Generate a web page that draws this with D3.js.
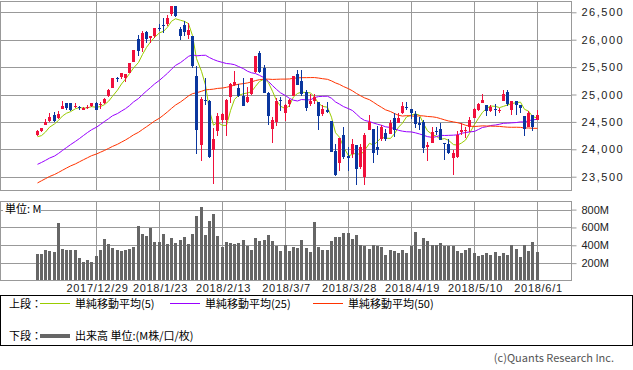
<!DOCTYPE html>
<html>
<head>
<meta charset="utf-8">
<script src="https://cdn.jsdelivr.net/npm/d3@7"></script>
<style>
  body { margin: 0; background: #fff; }
  svg { display: block; font-family: "Noto Sans CJK JP", "Noto Sans", sans-serif; }
</style>
</head>
<body>
<svg id="chart" width="633" height="370"></svg>
<script>
// trading days shown as candles
const dates = [
  "2017/12/8", "2017/12/11", "2017/12/12", "2017/12/13", "2017/12/14", "2017/12/15", "2017/12/18", "2017/12/19", "2017/12/20", "2017/12/21",
  "2017/12/22", "2017/12/26", "2017/12/27", "2017/12/28", "2017/12/29", "2018/1/2", "2018/1/3", "2018/1/4", "2018/1/5", "2018/1/8",
  "2018/1/9", "2018/1/10", "2018/1/11", "2018/1/12", "2018/1/16", "2018/1/17", "2018/1/18", "2018/1/19", "2018/1/22", "2018/1/23",
  "2018/1/24", "2018/1/25", "2018/1/26", "2018/1/29", "2018/1/30", "2018/1/31", "2018/2/1", "2018/2/2", "2018/2/5", "2018/2/6",
  "2018/2/7", "2018/2/8", "2018/2/9", "2018/2/12", "2018/2/13", "2018/2/14", "2018/2/15", "2018/2/16", "2018/2/20", "2018/2/21",
  "2018/2/22", "2018/2/23", "2018/2/26", "2018/2/27", "2018/2/28", "2018/3/1", "2018/3/2", "2018/3/5", "2018/3/6", "2018/3/7",
  "2018/3/8", "2018/3/9", "2018/3/12", "2018/3/13", "2018/3/14", "2018/3/15", "2018/3/16", "2018/3/19", "2018/3/20", "2018/3/21",
  "2018/3/22", "2018/3/23", "2018/3/26", "2018/3/27", "2018/3/28", "2018/3/29", "2018/4/2", "2018/4/3", "2018/4/4", "2018/4/5",
  "2018/4/6", "2018/4/9", "2018/4/10", "2018/4/11", "2018/4/12", "2018/4/13", "2018/4/16", "2018/4/17", "2018/4/18", "2018/4/19",
  "2018/4/20", "2018/4/23", "2018/4/24", "2018/4/25", "2018/4/26", "2018/4/27", "2018/4/30", "2018/5/1", "2018/5/2", "2018/5/3",
  "2018/5/4", "2018/5/7", "2018/5/8", "2018/5/9", "2018/5/10", "2018/5/11", "2018/5/14", "2018/5/15", "2018/5/16", "2018/5/17",
  "2018/5/18", "2018/5/21", "2018/5/22", "2018/5/23", "2018/5/24", "2018/5/25", "2018/5/29", "2018/5/30", "2018/5/31", "2018/6/1"
];

const opens = [
  24264, 24330, 24452, 24515, 24619, 24577, 24739, 24839, 24839, 24771,
  24765, 24716, 24766, 24795, 24849, 24809, 24850, 24964, 25114, 25308,
  25312, 25310, 25400, 25596, 26008, 25845, 26149, 26038, 26074, 26214,
  26271, 26281, 26469, 26609, 26198, 26268, 26083, 26061, 25337, 24085,
  24902, 24884, 23992, 24337, 24541, 24535, 24946, 25177, 25124, 24981,
  24865, 25001, 25410, 25755, 25480, 25024, 24376, 24500, 24901, 24655,
  24823, 24969, 25374, 25249, 25050, 24826, 24878, 24867, 24647, 24713,
  24525, 23966, 23758, 24270, 23885, 23912, 24076, 23670, 23491, 24347,
  24372, 24033, 24188, 24304, 24272, 24574, 24474, 24667, 24780, 24728,
  24650, 24488, 24500, 24042, 24109, 24343, 24372, 24117, 24097, 23836,
  23866, 24317, 24341, 24399, 24568, 24715, 24853, 24808, 24700, 24740,
  24696, 24883, 25047, 24721, 24882, 24807, 24600, 24405, 24622, 24542
];

const highs = [
  24345, 24390, 24552, 24668, 24672, 24690, 24876, 24844, 24850, 24838,
  24784, 24778, 24800, 24840, 24871, 24864, 24941, 25105, 25299, 25311,
  25400, 25370, 25574, 25803, 26086, 26153, 26154, 26072, 26215, 26290,
  26393, 26459, 26617, 26609, 26240, 26338, 26306, 26062, 25521, 24946,
  25294, 24904, 24382, 24665, 24668, 24924, 25201, 25432, 25193, 25302,
  25137, 25310, 25709, 25800, 25537, 25050, 24585, 24930, 24951, 24824,
  24918, 25336, 25449, 25449, 25090, 25016, 25009, 24867, 24806, 24870,
  24525, 24100, 24208, 24414, 24041, 24180, 24076, 24088, 24305, 24622,
  24372, 24420, 24445, 24364, 24543, 24662, 24667, 24858, 24857, 24728,
  24700, 24583, 24536, 24137, 24403, 24413, 24476, 24117, 24185, 23996,
  24331, 24479, 24412, 24586, 24748, 24837, 25006, 24808, 24810, 24824,
  24753, 25086, 25086, 24887, 24882, 24807, 24600, 24700, 24622, 24710
];

const lows = [
  24235, 24310, 24440, 24505, 24500, 24545, 24739, 24716, 24690, 24760,
  24718, 24710, 24742, 24772, 24709, 24741, 24825, 24963, 25112, 25236,
  25280, 25225, 25396, 25594, 25709, 25767, 25947, 25942, 26040, 26156,
  26114, 26243, 26437, 26417, 26000, 26069, 26014, 25490, 23923, 23778,
  24809, 23849, 23360, 24247, 24473, 24241, 24839, 25150, 24957, 24789,
  24847, 24988, 25391, 25401, 25025, 24445, 24117, 24418, 24701, 24525,
  24780, 24969, 25169, 24965, 24702, 24791, 24833, 24356, 24609, 24656,
  23946, 23510, 23604, 23816, 23600, 23850, 23344, 23636, 23345, 24347,
  23758, 23900, 24151, 24160, 24272, 24231, 24474, 24650, 24717, 24557,
  24383, 24361, 23931, 23778, 24108, 24253, 24163, 23808, 23913, 23531,
  23850, 24263, 24198, 24323, 24568, 24695, 24850, 24612, 24686, 24612,
  24660, 24883, 24797, 24626, 24626, 24656, 24250, 24405, 24330, 24542
];

const closes = [
  24329, 24387, 24504, 24585, 24509, 24651, 24792, 24754, 24726, 24782,
  24754, 24746, 24774, 24838, 24719, 24824, 24922, 25075, 25295, 25283,
  25385, 25369, 25574, 25803, 25792, 26115, 26017, 26071, 26214, 26210,
  26252, 26392, 26616, 26439, 26076, 26149, 26186, 25520, 24345, 24912,
  24893, 23860, 24190, 24601, 24640, 24893, 25200, 25219, 24964, 24797,
  24962, 25310, 25709, 25410, 25029, 24608, 24538, 24874, 24884, 24801,
  24895, 25336, 25178, 25007, 24758, 24873, 24946, 24611, 24727, 24683,
  23958, 23533, 24202, 23857, 23849, 24103, 23644, 24033, 24264, 24505,
  23933, 23979, 24408, 24190, 24484, 24360, 24573, 24787, 24748, 24665,
  24463, 24448, 24024, 24084, 24322, 24311, 24163, 24100, 23925, 23930,
  24263, 24357, 24361, 24543, 24740, 24831, 24900, 24706, 24769, 24714,
  24715, 25013, 24835, 24887, 24812, 24753, 24362, 24668, 24416, 24635
];

// volume, millions
const volumes = [
  302, 302, 347, 340, 325, 650, 358, 347, 347, 347,
  258, 213, 235, 213, 280, 347, 470, 414, 370, 347,
  336, 347, 358, 381, 616, 526, 504, 594, 437, 437,
  526, 414, 482, 426, 459, 493, 414, 526, 728, 829,
  515, 672, 751, 504, 381, 437, 426, 414, 426, 459,
  392, 347, 482, 448, 459, 515, 448, 392, 336, 403,
  336, 381, 370, 459, 370, 325, 661, 381, 347, 347,
  448, 493, 493, 538, 538, 470, 515, 403, 392, 358,
  403, 392, 381, 291, 347, 336, 314, 347, 314, 392,
  549, 358, 482, 448, 403, 403, 426, 392, 392, 392,
  336, 314, 347, 370, 314, 280, 291, 314, 291, 325,
  280, 314, 291, 403, 358, 269, 403, 336, 437, 325
];

// closes before the first candle, only used by the moving averages
const prevCloses = [
  22405, 22557, 22641, 22661, 22775, 22774, 22761, 22831, 22873, 22841,
  22871, 22957, 22997, 23158, 23163, 23329, 23274, 23441, 23329, 23400,
  23434, 23348, 23377, 23436, 23517, 23539, 23549, 23557, 23563, 23462,
  23422, 23440, 23410, 23272, 23458, 23358, 23431, 23591, 23527, 23558,
  23580, 23836, 23940, 24272, 24232, 24290, 24181, 24140, 24212
];

const priceTicks = [23500, 24000, 24500, 25000, 25500, 26000, 26500];
const volumeTicks = [200, 400, 600, 800];
const gridDates = ["2017/12/29", "2018/1/23", "2018/2/13", "2018/3/7", "2018/3/28", "2018/4/19", "2018/5/10", "2018/6/1"];
const maPeriods = [5, 25, 50];
const maColors = ["#99cc00", "#9900ff", "#ff3300"];
const maLabels = ["単純移動平均(5)", "単純移動平均(25)", "単純移動平均(50)"];

const svg = d3.select("#chart");
const upColor = "#f0103c", downColor = "#0a369e", gridColor = "#999";
const left = 0.5, right = 571.5;

const x = d3.scaleBand().domain(dates).range([34.6, 538.6]);
const cx = d => Math.round(x(d) + x.bandwidth() / 2);
const y = d3.scaleLinear().domain([23500, 26500]).range([176.7, 12.3]);
const vy = d3.scaleLinear().domain([0, 800]).range([281, 209.6]);

// PRICE PANEL
const price = svg.append("g");
price.selectAll(".hgrid")
  .data(priceTicks)
  .enter().append("line")
  .attr("x1", left).attr("x2", right)
  .attr("y1", d => Math.round(y(d)) + 0.5).attr("y2", d => Math.round(y(d)) + 0.5)
  .attr("stroke", gridColor);
price.selectAll(".vgrid")
  .data(gridDates)
  .enter().append("line")
  .attr("x1", d => cx(d) + 0.5).attr("x2", d => cx(d) + 0.5)
  .attr("y1", 1.5).attr("y2", 190.5)
  .attr("stroke", gridColor);
price.append("rect")
  .attr("x", left).attr("y", 1.5).attr("width", right - left).attr("height", 189)
  .attr("fill", "none").attr("stroke", gridColor);

// moving averages from the closes
const allCloses = prevCloses.concat(closes);
maPeriods.forEach((n, k) => {
  const ma = closes.map((c, i) => d3.mean(allCloses.slice(prevCloses.length + i - n + 1, prevCloses.length + i + 1)));
  price.append("path")
    .datum(ma)
    .attr("fill", "none")
    .attr("stroke", maColors[k])
    .attr("stroke-width", 1)
    .attr("d", d3.line().x((d, i) => cx(dates[i]) + 0.5).y(d => y(d)));
});

// candles
const rows = dates.map((d, i) => ({ date: d, open: opens[i], high: highs[i], low: lows[i], close: closes[i] }));
const candle = price.selectAll(".candle")
  .data(rows)
  .enter().append("g")
  .attr("shape-rendering", "crispEdges");
candle.append("line")
  .attr("x1", d => cx(d.date) + 0.5).attr("x2", d => cx(d.date) + 0.5)
  .attr("y1", d => y(d.high)).attr("y2", d => y(d.low))
  .attr("stroke", d => d.close >= d.open ? upColor : downColor);
candle.append("rect")
  .attr("x", d => cx(d.date) - 1)
  .attr("width", 3)
  .attr("y", d => y(Math.max(d.open, d.close)))
  .attr("height", d => Math.max(1, Math.abs(y(d.open) - y(d.close))))
  .attr("fill", d => d.close >= d.open ? upColor : downColor);

const priceAxis = price.append("g")
  .attr("transform", `translate(${right},0)`)
  .call(d3.axisRight(y).tickValues(priceTicks).tickSize(5).tickPadding(5).tickFormat(d3.format(",")));
priceAxis.select(".domain").remove();
priceAxis.selectAll("line").attr("stroke", gridColor);
priceAxis.selectAll("text").style("font-size", "11px").style("letter-spacing", "1.5px").attr("fill", "#222");

// VOLUME PANEL
const vol = svg.append("g");
vol.selectAll(".hgrid")
  .data(volumeTicks)
  .enter().append("line")
  .attr("x1", left).attr("x2", right)
  .attr("y1", d => Math.round(vy(d)) + 0.5).attr("y2", d => Math.round(vy(d)) + 0.5)
  .attr("stroke", gridColor);
vol.selectAll(".vgrid")
  .data(gridDates)
  .enter().append("line")
  .attr("x1", d => cx(d) + 0.5).attr("x2", d => cx(d) + 0.5)
  .attr("y1", 201.5).attr("y2", 280.5)
  .attr("stroke", gridColor);

vol.selectAll(".bar")
  .data(volumes)
  .enter().append("rect")
  .attr("shape-rendering", "crispEdges")
  .attr("x", (d, i) => cx(dates[i]) - 1)
  .attr("width", 3)
  .attr("y", d => vy(d))
  .attr("height", d => 280.5 - vy(d))
  .attr("fill", "#666");

vol.append("rect")
  .attr("x", left).attr("y", 201.5).attr("width", right - left).attr("height", 79)
  .attr("fill", "none").attr("stroke", gridColor);

vol.append("rect").attr("x", 3).attr("y", 204).attr("width", 38).attr("height", 11).attr("fill", "#fff");
vol.append("text")
  .attr("x", 5).attr("y", 213)
  .style("font-size", "11px")
  .text("単位: M");

const volAxis = vol.append("g")
  .attr("transform", `translate(${right},0)`)
  .call(d3.axisRight(vy).tickValues(volumeTicks).tickSize(5).tickPadding(5).tickFormat(d => d + "M"));
volAxis.select(".domain").remove();
volAxis.selectAll("line").attr("stroke", gridColor);
volAxis.selectAll("text").style("font-size", "11px").attr("fill", "#222");

// date labels under the volume panel
const dateAxis = svg.append("g")
  .attr("transform", "translate(2,281)")
  .call(d3.axisBottom(x).tickValues(gridDates).tickSize(0).tickPadding(3));
dateAxis.select(".domain").remove();
dateAxis.selectAll("text").style("font-size", "11px").style("letter-spacing", "0.7px").attr("fill", "#222");

// LEGEND
const legend = svg.append("g").style("font-size", "11px");
legend.append("rect")
  .attr("x", 0.5).attr("y", 295.5).attr("width", 632).attr("height", 50)
  .attr("fill", "none").attr("stroke", "#000");
legend.append("text").attr("x", 9).attr("y", 307.5).text("上段：");
const legendX = [40, 170, 313];
maLabels.forEach((label, k) => {
  legend.append("line")
    .attr("x1", legendX[k]).attr("x2", legendX[k] + 30)
    .attr("y1", 303.5).attr("y2", 303.5)
    .attr("stroke", maColors[k]);
  legend.append("text").attr("x", legendX[k] + 35).attr("y", 307.5).text(label);
});
legend.append("text").attr("x", 9).attr("y", 340).text("下段：");
legend.append("rect").attr("x", 40).attr("y", 334).attr("width", 30).attr("height", 4).attr("fill", "#666");
legend.append("text").attr("x", 75).attr("y", 340).text("出来高 単位:(M株/口/枚)");

svg.append("text")
  .attr("x", 614).attr("y", 362)
  .attr("text-anchor", "end")
  .style("font-size", "11px")
  .attr("fill", "#555")
  .text("(c)Quants Research Inc.");
</script>
</body>
</html>
